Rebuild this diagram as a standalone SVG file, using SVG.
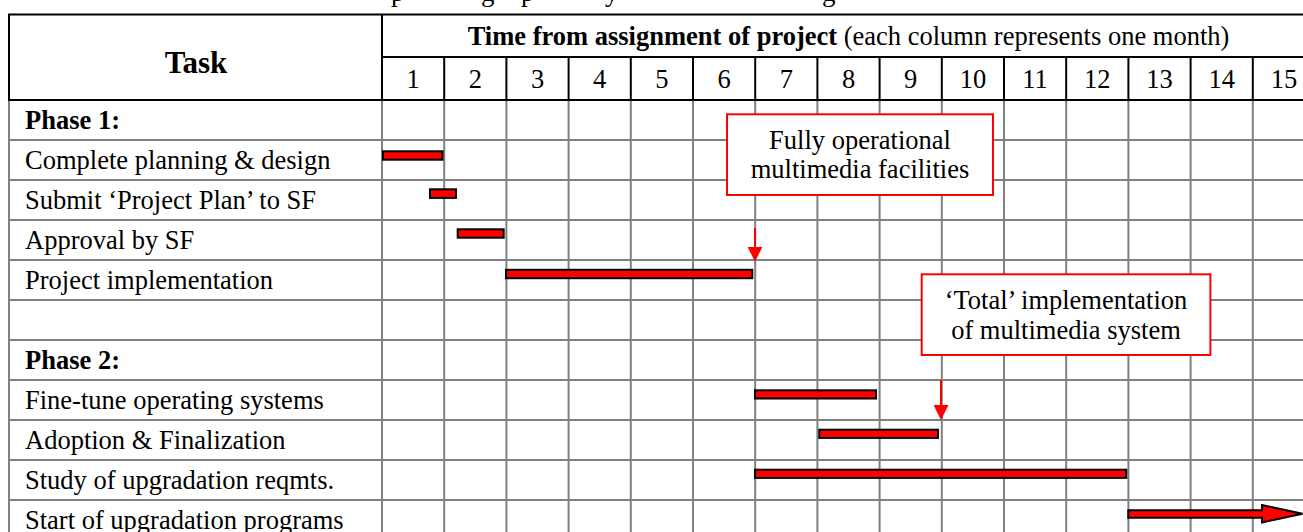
<svg xmlns="http://www.w3.org/2000/svg" width="1303" height="532" viewBox="0 0 1303 532">
<style>
  text { font-family: "Liberation Serif", "Times New Roman", serif; font-size: 26.5px; fill: #000; }
  .b { font-weight: bold; }
  .c { text-anchor: middle; }
  .grid line { stroke: #808080; stroke-width: 2; }
  .head line { stroke: #000; stroke-width: 2; }
  .bar { fill: #FF0000; stroke: #000; stroke-width: 2; }
  .callout rect { fill: #FFFFFF; stroke: #FF0000; stroke-width: 2; }
  .conn { stroke: #FF0000; stroke-width: 2; fill: none; }
</style>
<defs>
  <marker id="ah" viewBox="0 0 15 15" refX="0" refY="7.5" markerWidth="15" markerHeight="15" markerUnits="userSpaceOnUse" orient="auto">
    <path d="M0,0 L15,7.5 L0,15 Z" fill="#FF0000"/>
  </marker>
</defs>
<rect x="0" y="0" width="1303" height="532" fill="#FFFFFF"/>

<!-- clipped caption fragments -->
<text id="caption-fragment" x="391 481 521 605 822" y="1" style="font-size:27px">pgpyg</text>

<g id="grid" class="grid">
  <line x1="9" y1="100" x2="9" y2="532"/>
  <line x1="382" y1="100" x2="382" y2="532"/>
  <line x1="444.2" y1="100" x2="444.2" y2="532"/>
  <line x1="506.4" y1="100" x2="506.4" y2="532"/>
  <line x1="568.6" y1="100" x2="568.6" y2="532"/>
  <line x1="630.8" y1="100" x2="630.8" y2="532"/>
  <line x1="693" y1="100" x2="693" y2="532"/>
  <line x1="755.2" y1="100" x2="755.2" y2="532"/>
  <line x1="817.4" y1="100" x2="817.4" y2="532"/>
  <line x1="879.6" y1="100" x2="879.6" y2="532"/>
  <line x1="941.8" y1="100" x2="941.8" y2="532"/>
  <line x1="1004" y1="100" x2="1004" y2="532"/>
  <line x1="1066.2" y1="100" x2="1066.2" y2="532"/>
  <line x1="1128.4" y1="100" x2="1128.4" y2="532"/>
  <line x1="1190.6" y1="100" x2="1190.6" y2="532"/>
  <line x1="1252.8" y1="100" x2="1252.8" y2="532"/>
  <line x1="8" y1="140" x2="1303" y2="140"/>
  <line x1="8" y1="180" x2="1303" y2="180"/>
  <line x1="8" y1="220" x2="1303" y2="220"/>
  <line x1="8" y1="260" x2="1303" y2="260"/>
  <line x1="8" y1="300" x2="1303" y2="300"/>
  <line x1="8" y1="340" x2="1303" y2="340"/>
  <line x1="8" y1="380" x2="1303" y2="380"/>
  <line x1="8" y1="420" x2="1303" y2="420"/>
  <line x1="8" y1="460" x2="1303" y2="460"/>
  <line x1="8" y1="500" x2="1303" y2="500"/>
</g>

<g id="header" class="head">
  <line x1="8" y1="14.5" x2="1303" y2="14.5"/>
  <line x1="382" y1="57" x2="1303" y2="57"/>
  <line x1="8" y1="100" x2="1303" y2="100"/>
  <line x1="9" y1="14.5" x2="9" y2="100"/>
  <line x1="382" y1="14.5" x2="382" y2="100"/>
  <line x1="444.2" y1="57" x2="444.2" y2="100"/>
  <line x1="506.4" y1="57" x2="506.4" y2="100"/>
  <line x1="568.6" y1="57" x2="568.6" y2="100"/>
  <line x1="630.8" y1="57" x2="630.8" y2="100"/>
  <line x1="693" y1="57" x2="693" y2="100"/>
  <line x1="755.2" y1="57" x2="755.2" y2="100"/>
  <line x1="817.4" y1="57" x2="817.4" y2="100"/>
  <line x1="879.6" y1="57" x2="879.6" y2="100"/>
  <line x1="941.8" y1="57" x2="941.8" y2="100"/>
  <line x1="1004" y1="57" x2="1004" y2="100"/>
  <line x1="1066.2" y1="57" x2="1066.2" y2="100"/>
  <line x1="1128.4" y1="57" x2="1128.4" y2="100"/>
  <line x1="1190.6" y1="57" x2="1190.6" y2="100"/>
  <line x1="1252.8" y1="57" x2="1252.8" y2="100"/>
  <text class="b c" x="196" y="73" style="font-size:31px">Task</text>
  <text class="c" x="848.5" y="45"><tspan class="b">Time from assignment of project</tspan> (each column represents one month)</text>
  <g class="c">
    <text class="c" x="413.1" y="88">1</text>
    <text class="c" x="475.3" y="88">2</text>
    <text class="c" x="537.5" y="88">3</text>
    <text class="c" x="599.7" y="88">4</text>
    <text class="c" x="661.9" y="88">5</text>
    <text class="c" x="724.1" y="88">6</text>
    <text class="c" x="786.3" y="88">7</text>
    <text class="c" x="848.5" y="88">8</text>
    <text class="c" x="910.7" y="88">9</text>
    <text class="c" x="972.9" y="88">10</text>
    <text class="c" x="1035.1" y="88">11</text>
    <text class="c" x="1097.3" y="88">12</text>
    <text class="c" x="1159.5" y="88">13</text>
    <text class="c" x="1221.7" y="88">14</text>
    <text class="c" x="1283.9" y="88">15</text>
  </g>
</g>

<g id="task-labels">
  <text class="b" x="25" y="128.5">Phase 1:</text>
  <text x="25" y="168.5">Complete planning &amp; design</text>
  <text x="25" y="208.5">Submit ‘Project Plan’ to SF</text>
  <text x="25" y="248.5">Approval by SF</text>
  <text x="25" y="288.5">Project implementation</text>
  <text class="b" x="25" y="368.5">Phase 2:</text>
  <text x="25" y="408.5">Fine-tune operating systems</text>
  <text x="25" y="448.5">Adoption &amp; Finalization</text>
  <text x="25" y="488.5">Study of upgradation reqmts.</text>
  <text x="25" y="528.5">Start of upgradation programs</text>
</g>

<g id="bar-complete-planning"><rect class="bar" x="383" y="151.3" width="59.5" height="8.4"/></g>
<g id="bar-submit-plan"><rect class="bar" x="430" y="189.3" width="26" height="8.6"/></g>
<g id="bar-approval"><rect class="bar" x="457.7" y="229.3" width="46" height="8.4"/></g>
<g id="bar-implementation"><rect class="bar" x="506" y="269.8" width="246.3" height="8.4"/></g>
<g id="bar-fine-tune"><rect class="bar" x="755" y="390.3" width="121" height="8.2"/></g>
<g id="bar-adoption"><rect class="bar" x="819.3" y="429.7" width="118.7" height="8.2"/></g>
<g id="bar-study"><rect class="bar" x="755" y="469.7" width="371.3" height="8.2"/></g>
<g id="bar-upgradation"><path class="bar" d="M1128.3,510.3 L1262,510.3 L1262,505 L1302.5,513.7 L1262,522.5 L1262,517.7 L1128.3,517.7 Z"/></g>

<g id="callout-operational" class="callout">
  <rect x="727" y="114.3" width="266" height="80.7"/>
  <text class="c" x="860" y="149.3">Fully operational</text>
  <text class="c" x="860" y="178.3">multimedia facilities</text>
</g>
<g id="callout-total" class="callout">
  <rect x="921.7" y="274.3" width="288.7" height="80.7"/>
  <text class="c" x="1066" y="308.5">‘Total’ implementation</text>
  <text class="c" x="1066" y="338.5">of multimedia system</text>
</g>

<g id="connectors">
  <line class="conn" x1="755" y1="228" x2="755" y2="246.7" marker-end="url(#ah)"/>
  <line class="conn" x1="941" y1="380" x2="941" y2="405" marker-end="url(#ah)"/>
</g>
</svg>
